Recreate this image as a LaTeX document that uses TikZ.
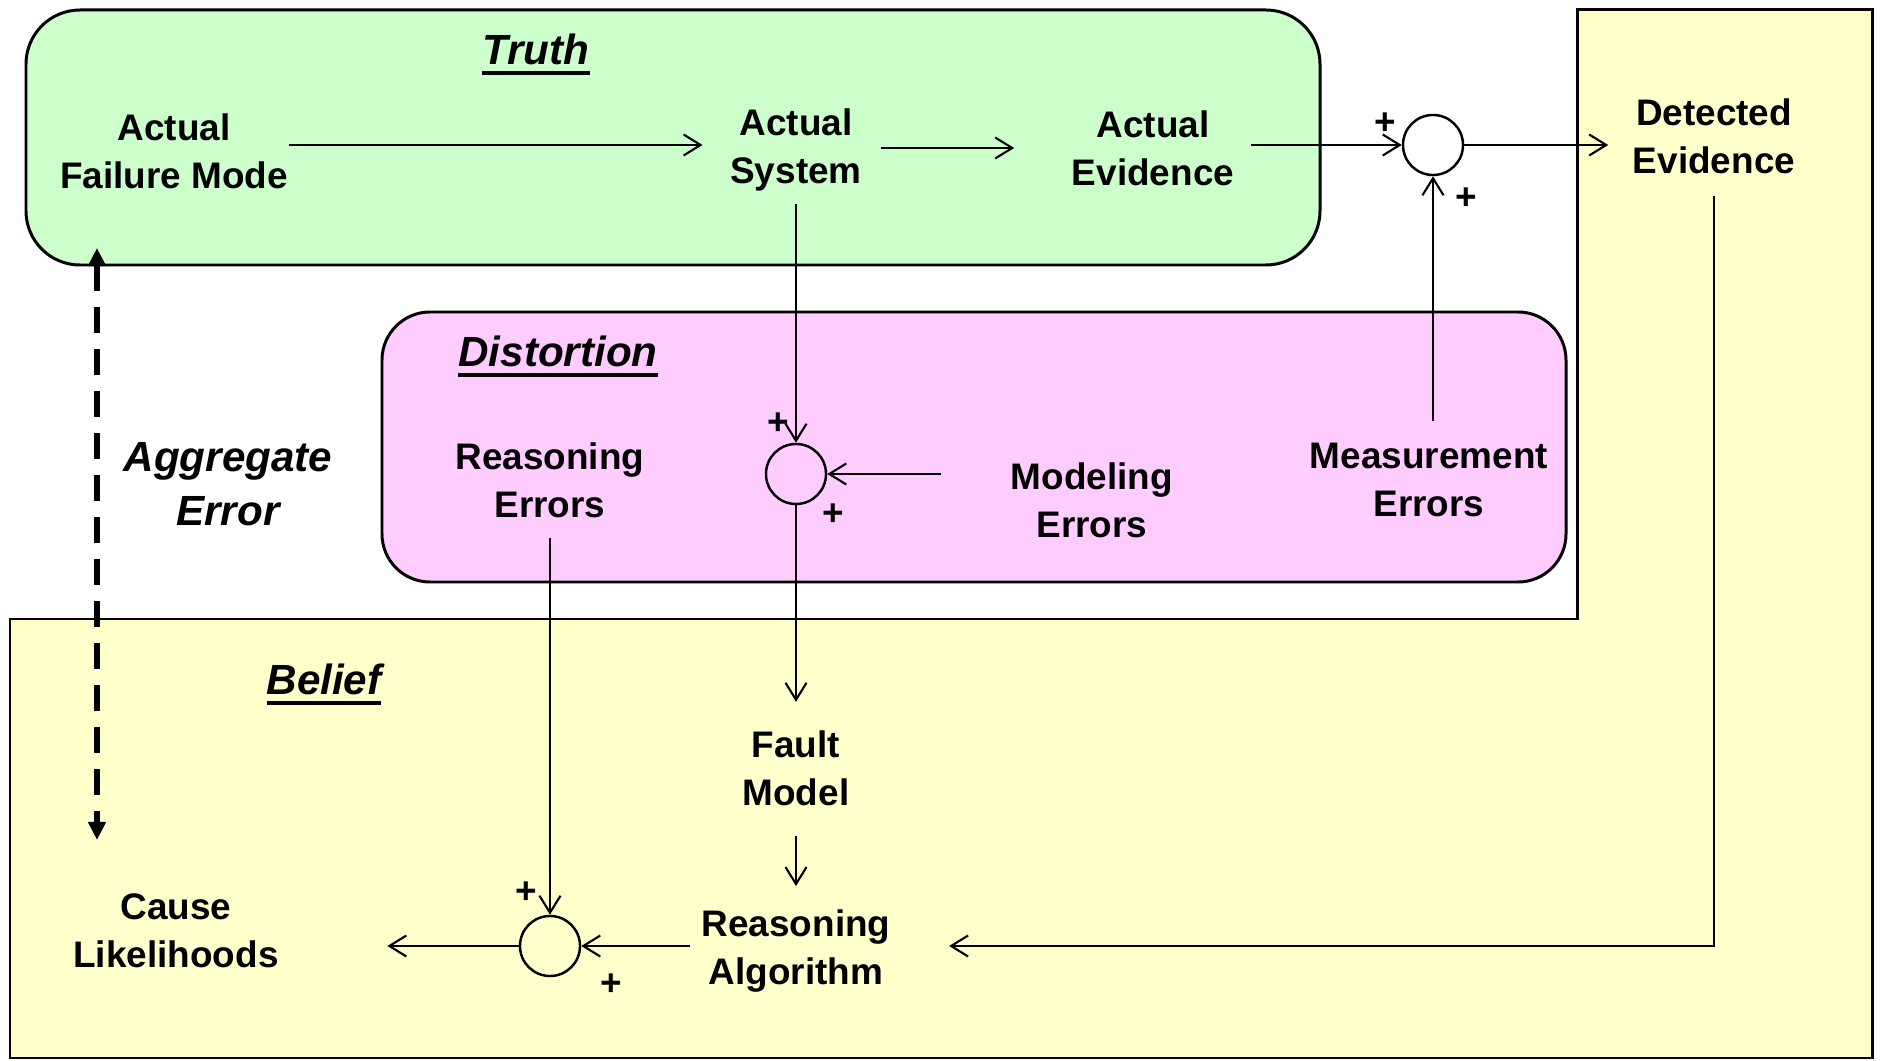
\documentclass[tikz,border=0pt]{standalone}
\usepackage{fontspec}
\setmainfont{Liberation Sans}
\usetikzlibrary{arrows.meta,calc}
\definecolor{truthg}{HTML}{CCFFCC}
\definecolor{distp}{HTML}{FFCCFF}
\definecolor{beliefy}{HTML}{FFFFCC}
\newcommand\myul[1]{\setbox0\hbox{#1}\rlap{\rule[-3pt]{\wd0}{1.1pt}}\box0}
\tikzset{
 lbl/.style={font=\fontsize{10.5}{13.6}\selectfont\bfseries, align=center, inner sep=0pt},
 ttl/.style={font=\fontsize{12}{15.4}\selectfont\bfseries\itshape, align=center, inner sep=0pt},
 sumc/.style={circle, draw, line width=0.7pt, minimum size=0.6cm, inner sep=0pt},
 plus/.style={font=\fontsize{10.5}{12}\selectfont\bfseries, inner sep=0pt},
 arr/.style={line width=0.6pt, -{Straight Barb[length=0.17cm,width=0.21cm]}},
 region/.style={draw, line width=0.85pt},
 aggarr/.style={line width=1.8pt, dash pattern=on 0.26cm off 0.16cm,
   {Triangle[length=0.18cm,width=0.17cm]}-{Triangle[length=0.18cm,width=0.17cm]}},
}
\begin{document}
\begin{tikzpicture}[x=0.01cm,y=-0.01cm]
\useasboundingbox (0,0) rectangle (1881,1061);
% regions
\filldraw[region, fill=beliefy] (10,619) -- (1577,619) -- (1577,10) -- (1872,10) -- (1872,1058) -- (10,1058) -- cycle;
\filldraw[region, fill=truthg, rounded corners=0.54cm] (26,10) rectangle (1320,265);
\filldraw[region, fill=distp, rounded corners=0.48cm] (382,312) rectangle (1566,582);
% titles
\node[ttl] (truth) at (536,54) {\myul{Truth}};
\node[ttl] (dist) at (558,356) {\myul{Distortion}};
\node[ttl] (belief) at (324,684) {\myul{Belief}};
\node[ttl] (agg) at (228,484) {Aggregate\\Error};
% labels
\node[lbl] (tfm) at (174,151) {Actual\\Failure Mode};
\node[lbl] (tas) at (796,150) {Actual\\System};
\node[lbl] (tae) at (1153,148) {Actual\\Evidence};
\node[lbl] (de) at (1714,136) {Detected\\Evidence};
\node[lbl] (rerr) at (550,480) {Reasoning\\Errors};
\node[lbl] (merr) at (1092,500) {Modeling\\Errors};
\node[lbl] (meas) at (1429,480) {Measurement\\Errors};
\node[lbl] (fm) at (796,768) {Fault\\Model};
\node[lbl] (ra) at (796,951) {Reasoning\\Algorithm};
\node[lbl] (cl) at (176,931) {Cause\\Likelihoods};
% summing junctions
\node[sumc] (s1) at (1433,145) {};
\node[sumc] (s2) at (796,474) {};
\node[sumc] (s3) at (550,946) {};
\node[plus] (p1a) at (1385,124) {+};
\node[plus] (p1b) at (1466,199) {+};
\node[plus] (p2a) at (778,424) {+};
\node[plus] (p2b) at (833,515) {+};
\node[plus] (p3a) at (526,893) {+};
\node[plus] (p3b) at (611,985) {+};
% connectors
\draw[arr, shorten >=0.27cm] (tfm.east |- s1) -- (tas.west |- s1);
\draw[arr, shorten <=0.185cm, shorten >=0.57cm] (tas.east |- tae) -- (tae.west);
\draw[arr, shorten <=0.16cm] (tae.east |- s1) -- (s1.west);
\draw[arr, shorten >=0.24cm] (s1.east) -- (s1 -| de.west);
\draw[arr, shorten <=0.12cm] (tas.south) -- (s2.north);
\draw[arr, shorten <=0.69cm] (s2 -| merr.west) -- (s2.east);
\draw[arr, shorten <=0.21cm] (s1 |- meas.north) -- (s1.south);
\draw[arr, shorten >=0.28cm] (s2.south) -- (fm.north);
\draw[arr, shorten <=0.3cm, shorten >=0.23cm] (fm.south) -- (ra.north);
\draw[arr, shorten <=0.2cm] (rerr.south) -- (s3.north);
\draw[arr, shorten <=0.11cm] (s3 -| ra.west) -- (s3.east);
\draw[arr, shorten >=1.08cm] (s3.west) -- (s3 -| cl.east);
\draw[arr, shorten <=0.22cm, shorten >=0.58cm] (de.south) |- (s3 -| ra.east);
\coordinate (agtop) at (97,248);
\coordinate (agbot) at (97,840);
\draw[aggarr] (agtop) -- (agbot);
\end{tikzpicture}
\end{document}
